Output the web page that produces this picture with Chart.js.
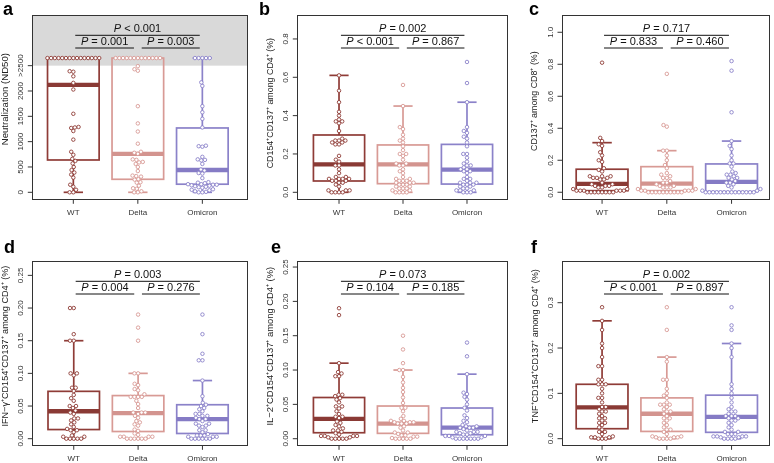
<!DOCTYPE html>
<html><head><meta charset="utf-8">
<script src="https://cdn.jsdelivr.net/npm/chart.js@4/dist/chart.umd.min.js"></script>
<style>
html,body{margin:0;padding:0;background:#fff;}
body{width:774px;height:463px;overflow:hidden;position:relative;font-family:"Liberation Sans",Arial,sans-serif;}
canvas{position:absolute;}
.lbl{position:absolute;font-weight:bold;font-size:18px;line-height:18px;color:#000;}
</style></head>
<body>
<script>
// ---------------- DATA ----------------
const categories = ['WT', 'Delta', 'Omicron'];

// a: Neutralization (ND50); values >2500 are drawn at the ">2500" cap level
const a_WT = [2650,2650,2650,2650,2650,2650,2650,2650,2650,2650,2650,2650,2650,2650,2650,2390,2380,2290,2160,2030,1550,1290,1280,1270,1210,1040,800,740,660,620,570,500,440,390,350,290,150,110,50,0,0];
const a_Delta = [2650,2650,2650,2650,2650,2650,2650,2650,2650,2650,2650,2650,2650,2490,2430,2400,1700,1360,1200,960,800,780,760,650,640,600,590,560,500,420,330,320,310,260,250,200,190,130,80,70,20,0,0];
const a_Omicron = [2650,2650,2650,2650,2650,2170,2100,1700,1580,1450,1280,920,910,900,700,650,640,630,560,450,430,380,370,280,200,190,180,160,160,150,150,140,130,120,110,100,90,60,50,40,20,10,0,0];
const a_stats = [[0,638,2120,2650,2650],[0,257,760,2650,2650],[0,160,440,1270,2650]]; // lo,q1,median,q3,hi
const a_yTicks = [0,500,1000,1500,2000,2500];
const a_yTickLabels = ['0','500','1000','1500','2000','>2500'];
const a_pValues = ['< 0.001','= 0.001','= 0.003'];
const a_yTitle = 'Neutralization (ND50)';

// b
const b_WT = [0.61,0.53,0.47,0.42,0.40,0.38,0.37,0.37,0.36,0.32,0.28,0.27,0.27,0.27,0.26,0.26,0.25,0.25,0.19,0.17,0.16,0.14,0.14,0.12,0.10,0.08,0.08,0.07,0.07,0.07,0.07,0.06,0.06,0.06,0.05,0.05,0.04,0.03,0.01,0.01,0.01,0.00,0.00,0.00,0.00];
const b_Delta = [0.56,0.45,0.34,0.33,0.30,0.28,0.27,0.26,0.24,0.22,0.20,0.20,0.19,0.17,0.15,0.15,0.14,0.14,0.12,0.11,0.10,0.08,0.07,0.07,0.06,0.06,0.06,0.05,0.05,0.05,0.04,0.04,0.04,0.03,0.03,0.02,0.02,0.02,0.01,0.01,0.00,0.00,0.00,0.00];
const b_Omicron = [0.68,0.57,0.47,0.34,0.32,0.31,0.29,0.28,0.26,0.24,0.20,0.20,0.18,0.16,0.15,0.14,0.14,0.13,0.12,0.12,0.11,0.11,0.10,0.08,0.07,0.07,0.06,0.05,0.05,0.05,0.04,0.04,0.04,0.03,0.03,0.02,0.02,0.01,0.01,0.01,0.00,0.00,0.00];
const b_stats = [[0,0.059,0.146,0.299,0.61],[0,0.045,0.146,0.247,0.45],[0,0.043,0.118,0.25,0.47]];
const b_yTicks = [0,0.2,0.4,0.6,0.8];
const b_yTickLabels = ['0.0','0.2','0.4','0.6','0.8'];
const b_pValues = ['= 0.002','< 0.001','= 0.867'];
const b_yTitle = 'CD154\u207ACD137\u207A among CD4\u207A (%)';

// c
const c_WT = [0.81,0.34,0.32,0.30,0.29,0.25,0.23,0.20,0.19,0.15,0.14,0.13,0.10,0.10,0.10,0.09,0.09,0.09,0.08,0.08,0.06,0.05,0.05,0.04,0.04,0.04,0.03,0.03,0.02,0.02,0.01,0.01,0.01,0.01,0.01,0.01,0.00,0.00,0.00,0.00,0.00,0.00,0.00,0.00];
const c_Delta = [0.74,0.42,0.41,0.26,0.26,0.23,0.20,0.17,0.15,0.12,0.11,0.10,0.09,0.09,0.07,0.06,0.06,0.05,0.04,0.04,0.03,0.03,0.03,0.02,0.02,0.01,0.01,0.01,0.01,0.01,0.00,0.00,0.00,0.00,0.00,0.00,0.00,0.00,0.00,0.00];
const c_Omicron = [0.82,0.76,0.50,0.32,0.29,0.27,0.23,0.20,0.18,0.18,0.16,0.13,0.12,0.11,0.11,0.10,0.09,0.09,0.08,0.07,0.06,0.06,0.05,0.04,0.03,0.02,0.01,0.01,0.00,0.00,0.00,0.00,0.00,0.00,0.00,0.00,0.00,0.00,0.00,0.00,0.00,0.00];
const c_stats = [[0,0.01,0.052,0.144,0.31],[0,0.01,0.054,0.16,0.26],[0,0.004,0.065,0.177,0.32]];
const c_yTicks = [0,0.2,0.4,0.6,0.8,1.0];
const c_yTickLabels = ['0.0','0.2','0.4','0.6','0.8','1.0'];
const c_pValues = ['= 0.717','= 0.833','= 0.460'];
const c_yTitle = 'CD137\u207A among CD8\u207A (%)';

// d
const d_WT = [0.20,0.20,0.16,0.15,0.15,0.10,0.10,0.097,0.078,0.078,0.073,0.067,0.062,0.058,0.050,0.050,0.047,0.043,0.040,0.038,0.031,0.031,0.028,0.025,0.022,0.018,0.015,0.013,0.013,0.010,0.005,0.003,0.003,0.000,0.000,0.000,0.000,0.000];
const d_Delta = [0.19,0.17,0.15,0.10,0.10,0.084,0.082,0.076,0.074,0.068,0.064,0.064,0.064,0.064,0.058,0.053,0.047,0.040,0.040,0.040,0.038,0.035,0.032,0.027,0.025,0.022,0.020,0.014,0.012,0.008,0.006,0.003,0.003,0.003,0.003,0.000,0.000,0.000,0.000,0.000,0.000];
const d_Omicron = [0.19,0.16,0.13,0.12,0.12,0.089,0.065,0.055,0.052,0.050,0.047,0.045,0.042,0.038,0.038,0.035,0.035,0.032,0.030,0.030,0.027,0.023,0.023,0.020,0.020,0.018,0.013,0.013,0.010,0.007,0.005,0.005,0.005,0.003,0.003,0.003,0.000,0.000,0.000,0.000,0.000,0.000];
const d_stats = [[0,0.014,0.042,0.0725,0.15],[0,0.011,0.039,0.066,0.10],[0,0.008,0.030,0.052,0.089]];
const d_yTicks = [0,0.05,0.10,0.15,0.20,0.25];
const d_yTickLabels = ['0.00','0.05','0.10','0.15','0.20','0.25'];
const d_pValues = ['= 0.003','= 0.004','= 0.276'];
const d_yTitle = 'IFN\u2212\u03B3\u207ACD154\u207ACD137\u207A among CD4\u207A (%)';

// e
const e_WT = [0.19,0.18,0.11,0.097,0.095,0.091,0.091,0.064,0.064,0.062,0.059,0.057,0.053,0.047,0.047,0.044,0.040,0.036,0.032,0.032,0.030,0.025,0.023,0.020,0.018,0.015,0.012,0.012,0.010,0.008,0.006,0.004,0.004,0.004,0.004,0.002,0.002,0.000,0.000,0.000,0.000,0.000];
const e_Delta = [0.15,0.13,0.11,0.10,0.10,0.090,0.082,0.074,0.068,0.060,0.052,0.045,0.045,0.040,0.033,0.029,0.026,0.026,0.024,0.024,0.024,0.022,0.022,0.022,0.018,0.016,0.012,0.009,0.009,0.007,0.005,0.005,0.003,0.003,0.001,0.000,0.000,0.000,0.000,0.000];
const e_Omicron = [0.14,0.12,0.094,0.067,0.065,0.061,0.057,0.050,0.045,0.041,0.034,0.030,0.026,0.024,0.020,0.018,0.018,0.016,0.016,0.016,0.014,0.012,0.010,0.010,0.010,0.008,0.008,0.006,0.006,0.004,0.004,0.004,0.002,0.002,0.000,0.000,0.000,0.000,0.000,0.000,0.000];
const e_stats = [[0,0.0087,0.029,0.060,0.11],[0,0.0078,0.022,0.0476,0.10],[0,0.0058,0.016,0.0447,0.094]];
const e_yTicks = [0,0.05,0.10,0.15,0.20,0.25];
const e_yTickLabels = ['0.00','0.05','0.10','0.15','0.20','0.25'];
const e_pValues = ['= 0.073','= 0.104','= 0.185'];
const e_yTitle = 'IL\u22122\u207ACD154\u207ACD137\u207A among CD4\u207A (%)';

// f
const f_WT = [0.29,0.26,0.24,0.21,0.20,0.18,0.16,0.16,0.13,0.13,0.12,0.12,0.12,0.11,0.10,0.09,0.09,0.08,0.07,0.07,0.065,0.06,0.06,0.055,0.05,0.045,0.045,0.04,0.035,0.035,0.03,0.025,0.02,0.015,0.015,0.01,0.005,0.003,0.003,0.003,0.000,0.000,0.000];
const f_Delta = [0.29,0.24,0.18,0.17,0.13,0.13,0.11,0.10,0.095,0.09,0.08,0.075,0.075,0.075,0.07,0.065,0.06,0.06,0.055,0.05,0.045,0.045,0.04,0.035,0.03,0.025,0.02,0.02,0.015,0.01,0.005,0.005,0.003,0.003,0.003,0.000,0.000,0.000,0.000];
const f_Omicron = [0.29,0.25,0.24,0.21,0.20,0.18,0.12,0.11,0.10,0.09,0.08,0.07,0.065,0.06,0.06,0.055,0.05,0.05,0.05,0.045,0.045,0.04,0.04,0.035,0.03,0.025,0.02,0.015,0.015,0.01,0.01,0.01,0.005,0.005,0.005,0.005,0.003,0.003,0.000,0.000,0.000,0.000];
const f_stats = [[0,0.022,0.069,0.12,0.26],[0,0.016,0.055,0.09,0.18],[0,0.014,0.048,0.096,0.21]];
const f_yTicks = [0,0.1,0.2,0.3];
const f_yTickLabels = ['0.0','0.1','0.2','0.3'];
const f_pValues = ['= 0.002','< 0.001','= 0.897'];
const f_yTitle = 'TNF\u207ACD154\u207ACD137\u207A among CD4\u207A (%)';

// ---------------- STYLE / LAYOUT ----------------
const groupColors = ['#8f3c37', '#d89a95', '#8b82c9'];
const medianColors = ['#8a3a35', '#d3948f', '#857bc5'];
const FONT = '"Liberation Sans", Arial, sans-serif';
const SWARM_GAP = 3.7;

const layout = {
  a: {cx:0,   cy:0,   cw:258, ch:231, L:32.3,  R:247.5, T:15,  B:199.3, ymin:-138,    ymax:3500,  xmin:0.364, xmax:3.70, letter:[3,0], grey:2500, titleSize:9.6, titleShift:-8},
  b: {cx:258, cy:0,   cw:258, ch:231, L:297.3, R:507.3, T:15,  B:199.3, ymin:-0.0365, ymax:0.925, xmin:0.348, xmax:3.63, letter:[259,0], titleSize:8.9, titleShift:-4},
  c: {cx:516, cy:0,   cw:258, ch:231, L:562,   R:769.3, T:15,  B:199.3, ymin:-0.044,  ymax:1.108, xmin:0.381, xmax:3.583, letter:[529,0], titleSize:8.9, titleShift:-6},
  d: {cx:0,   cy:231, cw:258, ch:232, L:32.3,  R:247.5, T:261, B:445.3, ymin:-0.0101, ymax:0.272, xmin:0.356, xmax:3.70, letter:[4,238], titleSize:9.1, titleShift:-7},
  e: {cx:258, cy:231, cw:258, ch:232, L:297.3, R:507.3, T:261, B:445.3, ymin:-0.0096, ymax:0.2588,xmin:0.348, xmax:3.63, letter:[271,238], titleSize:9.4, titleShift:-7},
  f: {cx:516, cy:231, cw:258, ch:232, L:562,   R:769.3, T:261, B:445.3, ymin:-0.0146, ymax:0.392, xmin:0.381, xmax:3.583, letter:[531,238], titleSize:9.1, titleShift:-7}
};

const panels = [
  {id:'a', series:[a_WT,a_Delta,a_Omicron], stats:a_stats, ticks:a_yTicks, tickLabels:a_yTickLabels, p:a_pValues, title:a_yTitle},
  {id:'b', series:[b_WT,b_Delta,b_Omicron], stats:b_stats, ticks:b_yTicks, tickLabels:b_yTickLabels, p:b_pValues, title:b_yTitle},
  {id:'c', series:[c_WT,c_Delta,c_Omicron], stats:c_stats, ticks:c_yTicks, tickLabels:c_yTickLabels, p:c_pValues, title:c_yTitle},
  {id:'d', series:[d_WT,d_Delta,d_Omicron], stats:d_stats, ticks:d_yTicks, tickLabels:d_yTickLabels, p:d_pValues, title:d_yTitle},
  {id:'e', series:[e_WT,e_Delta,e_Omicron], stats:e_stats, ticks:e_yTicks, tickLabels:e_yTickLabels, p:e_pValues, title:e_yTitle},
  {id:'f', series:[f_WT,f_Delta,f_Omicron], stats:f_stats, ticks:f_yTicks, tickLabels:f_yTickLabels, p:f_pValues, title:f_yTitle}
];

function line(ctx,x1,y1,x2,y2){ctx.beginPath();ctx.moveTo(x1,y1);ctx.lineTo(x2,y2);ctx.stroke();}

function drawP(ctx, cx, cy, rest){
  ctx.font = 'italic 11px ' + FONT;
  const w1 = ctx.measureText('P').width;
  ctx.font = '11px ' + FONT;
  const w2 = ctx.measureText(' ' + rest).width;
  const x = cx - (w1 + w2) / 2;
  ctx.textAlign = 'left'; ctx.textBaseline = 'middle'; ctx.fillStyle = '#111';
  ctx.font = 'italic 11px ' + FONT; ctx.fillText('P', x, cy);
  ctx.font = '11px ' + FONT; ctx.fillText(' ' + rest, x + w1, cy);
}

function makePlugin(panel, lay){
  return {
    id: 'boxes_' + panel.id,
    beforeDatasetsDraw(chart){
      const ctx = chart.ctx, xs = chart.scales.x, ys = chart.scales.y, ca = chart.chartArea;
      ctx.save();
      if (lay.grey != null){
        ctx.fillStyle = '#d9d9d9';
        const yy = ys.getPixelForValue(lay.grey);
        ctx.fillRect(ca.left, ca.top, ca.right - ca.left, yy - ca.top);
      }
      panel.stats.forEach((s, i) => {
        const c = i + 1;
        const xl = xs.getPixelForValue(c - 0.4), xr = xs.getPixelForValue(c + 0.4), xc = xs.getPixelForValue(c);
        const cl = xs.getPixelForValue(c - 0.15), cr = xs.getPixelForValue(c + 0.15);
        const [lo, q1, md, q3, hi] = s.map(v => ys.getPixelForValue(v));
        ctx.strokeStyle = groupColors[i]; ctx.lineWidth = 1.7; ctx.lineCap = 'butt';
        line(ctx, xc, q3, xc, hi); line(ctx, xc, q1, xc, lo);
        line(ctx, cl, hi, cr, hi); line(ctx, cl, lo, cr, lo);
        ctx.strokeRect(xl, q3, xr - xl, q1 - q3);
        ctx.strokeStyle = medianColors[i]; ctx.lineWidth = 4.3;
        line(ctx, xl, md, xr, md);
      });
      ctx.restore();
    },
    afterDraw(chart){
      const ctx = chart.ctx, xs = chart.scales.x, ys = chart.scales.y, ca = chart.chartArea;
      ctx.save();
      // frame
      ctx.strokeStyle = '#333'; ctx.lineWidth = 1;
      ctx.strokeRect(Math.round(ca.left)+0.5, Math.round(ca.top)+0.5, Math.round(ca.right-ca.left), Math.round(ca.bottom-ca.top));
      // y ticks
      ctx.fillStyle = '#333'; ctx.font = '8px ' + FONT;
      panel.ticks.forEach((t, k) => {
        const y = ys.getPixelForValue(t);
        line(ctx, ca.left - 4.5, y, ca.left, y);
        ctx.save(); ctx.translate(ca.left - 11.5, y); ctx.rotate(-Math.PI/2);
        ctx.textAlign = 'center'; ctx.textBaseline = 'middle';
        ctx.fillText(panel.tickLabels[k], 0, 0); ctx.restore();
      });
      // y title
      ctx.save(); ctx.translate(ca.left - 27, (ca.top + ca.bottom)/2 + lay.titleShift); ctx.rotate(-Math.PI/2);
      ctx.textAlign = 'center'; ctx.textBaseline = 'middle'; ctx.fillStyle = '#222';
      ctx.font = lay.titleSize + 'px ' + FONT; ctx.fillText(panel.title, 0, 0); ctx.restore();
      // x ticks
      categories.forEach((name, i) => {
        const x = xs.getPixelForValue(i + 1);
        line(ctx, x, ca.bottom, x, ca.bottom + 4.5);
        ctx.textAlign = 'center'; ctx.textBaseline = 'middle'; ctx.fillStyle = '#333';
        ctx.font = '8px ' + FONT; ctx.fillText(name, x, ca.bottom + 13);
      });
      // brackets
      ctx.strokeStyle = '#111'; ctx.lineWidth = 1;
      const yU = ca.top + 20.3, yL = ca.top + 33;
      const u0 = xs.getPixelForValue(1.03), u1 = xs.getPixelForValue(2.96);
      const l0 = xs.getPixelForValue(1.03), l1 = xs.getPixelForValue(1.94);
      const r0 = xs.getPixelForValue(2.06), r1 = xs.getPixelForValue(2.96);
      line(ctx, u0, yU, u1, yU); line(ctx, l0, yL, l1, yL); line(ctx, r0, yL, r1, yL);
      drawP(ctx, (u0 + u1)/2, ca.top + 14, panel.p[0]);
      drawP(ctx, (l0 + l1)/2, ca.top + 27, panel.p[1]);
      drawP(ctx, (r0 + r1)/2, ca.top + 27, panel.p[2]);
      ctx.restore();
    }
  };
}

function swarm(values, ys, d){
  const items = values.map(v => ({v: v, py: ys.getPixelForValue(v), px: 0}));
  items.sort((a, b) => a.v - b.v);
  const placed = [];
  for (const it of items){
    const iv = [];
    for (const p of placed){
      const dy = Math.abs(p.py - it.py);
      if (dy < d){ const w = Math.sqrt(d*d - dy*dy); iv.push([p.px - w, p.px + w]); }
    }
    const cands = [0];
    iv.forEach(r => { cands.push(r[0], r[1]); });
    cands.sort((a, b) => Math.abs(a) - Math.abs(b));
    let chosen = 0;
    for (const cnd of cands){
      if (iv.every(r => cnd <= r[0] + 1e-6 || cnd >= r[1] - 1e-6)){ chosen = cnd; break; }
    }
    it.px = chosen; placed.push(it);
  }
  return items;
}

panels.forEach(panel => {
  const lay = layout[panel.id];
  const cv = document.createElement('canvas');
  cv.width = lay.cw; cv.height = lay.ch;
  cv.style.left = lay.cx + 'px'; cv.style.top = lay.cy + 'px';
  cv.style.width = lay.cw + 'px'; cv.style.height = lay.ch + 'px';
  document.body.appendChild(cv);

  const lbl = document.createElement('div');
  lbl.className = 'lbl'; lbl.textContent = panel.id;
  lbl.style.left = lay.letter[0] + 'px'; lbl.style.top = lay.letter[1] + 'px';
  document.body.appendChild(lbl);

  const datasets = panel.series.map((vals, i) => ({
    label: categories[i],
    data: vals.map(v => ({x: i + 1, y: v})),
    pointRadius: 1.75, pointHoverRadius: 1.75, pointBorderWidth: 0.9,
    borderColor: groupColors[i], backgroundColor: '#ffffff',
    pointBackgroundColor: '#ffffff', pointBorderColor: groupColors[i],
    showLine: false
  }));

  const chart = new Chart(cv, {
    type: 'scatter',
    data: {datasets: datasets},
    options: {
      responsive: false, animation: false, devicePixelRatio: 1, events: [],
      layout: {padding: {left: lay.L - lay.cx, top: lay.T - lay.cy, right: lay.cx + lay.cw - lay.R, bottom: lay.cy + lay.ch - lay.B}},
      scales: {
        x: {type: 'linear', min: lay.xmin, max: lay.xmax, display: false},
        y: {type: 'linear', min: lay.ymin, max: lay.ymax, display: false}
      },
      plugins: {legend: {display: false}, tooltip: {enabled: false}}
    },
    plugins: [makePlugin(panel, lay)]
  });

  const xs = chart.scales.x, ys = chart.scales.y;
  const pxu = xs.getPixelForValue(1) - xs.getPixelForValue(0);
  chart.data.datasets.forEach((ds, i) => {
    const placed = swarm(panel.series[i], ys, SWARM_GAP);
    ds.data = placed.map(o => ({x: i + 1 + o.px / pxu, y: o.v}));
  });
  chart.update('none');
});
</script>
</body></html>
